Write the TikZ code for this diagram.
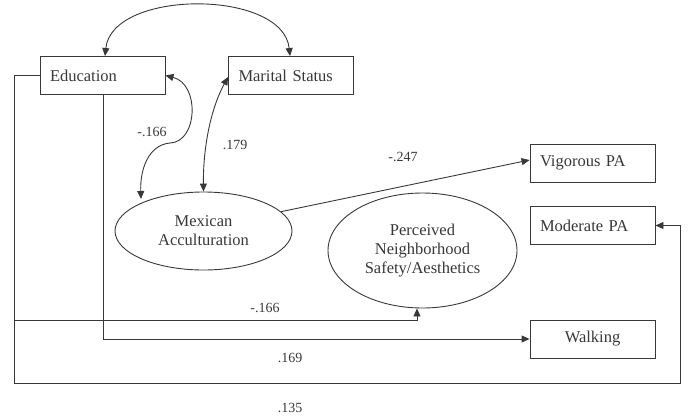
\documentclass[tikz,border=0pt]{standalone}
\usepackage{fontspec}
\setmainfont{Liberation Serif}
\usetikzlibrary{arrows.meta,shapes.geometric,calc}
\definecolor{ink}{HTML}{383838}
\tikzset{
  box/.style={draw=ink, line width=0.9pt, rectangle, minimum height=38pt, text width=105pt, inner xsep=10pt, inner ysep=0pt, align=left, text=ink, font=\fontsize{16.5}{19}\selectfont},
  cbox/.style={box, align=center},
  oval/.style={draw=ink, line width=0.9pt, ellipse, inner sep=0pt, align=center, text=ink, font=\fontsize{16.5}{19}\selectfont},
  conn/.style={draw=ink, line width=0.9pt, -{Triangle[length=8pt,width=7pt]}},
  dconn/.style={draw=ink, line width=0.9pt, {Triangle[length=8pt,width=7pt]}-{Triangle[length=8pt,width=7pt]}},
  wire/.style={draw=ink, line width=0.9pt},
  lab/.style={text=ink, font=\fontsize{14}{16}\selectfont, inner sep=0pt}
}
\begin{document}
\begin{tikzpicture}[x=1pt,y=-1pt]
\useasboundingbox (0,0) rectangle (689,416);
\node[box] (edu) at (102.5,75.5) {Education};
\node[box] (mar) at (291,75.5) {Marital Status};
\node[box] (vig) at (592.5,163) {Vigorous PA};
\node[box] (mod) at (592.5,225.5) {Moderate PA};
\node[cbox] (walk) at (592.5,339) {Walking};
\node[oval, minimum width=177pt, minimum height=78pt] (acc) at (203.5,231) {Mexican\\Acculturation};
\node[oval, minimum width=189pt, minimum height=115pt] (perc) at (422.5,250.5) {Perceived\\Neighborhood\\Safety/Aesthetics};
% top covariance
\draw[dconn] ($(edu.north)+(2.5,0)$) .. controls (112,-11) and (283,-11) .. ($(mar.north)+(-1,0)$);
% education - acculturation
\draw[dconn] (edu.east) .. controls (200,84) and (198,142) .. (170,143) .. controls (148,145) and (140,170) .. (141,199);
% marital - acculturation
\draw[dconn] ($(mar.west)+(0,1.5)$) .. controls (210,110) and (203,150) .. (acc.north);
% acculturation -> vigorous
\draw[conn] (acc.14) -- ($(vig.west)+(0,-3)$);
% education left -> perceived and moderate
\coordinate (l1) at (14,75.5);
\coordinate (l2) at (14,320);
\coordinate (l3) at (417,320);
\coordinate (l4) at (14,383);
\coordinate (l5) at (680,383);
\coordinate (l6) at (680,225.5);
\draw[wire] (edu.west) -- (l1) -- (l4);
\draw[conn] (l2) -- (l3) -- (l3 |- perc.south);
\draw[conn] (l4) -- (l5) -- (l6) -- (mod.east);
% education bottom -> walking
\coordinate (b1) at (103,94);
\coordinate (b2) at (103,339);
\draw[conn] (b1) -- (b2) -- (walk.west);
% labels
\node[lab] (t1) at (152,132) {-.166};
\node[lab] (t2) at (235,145) {.179};
\node[lab] (t3) at (403,157) {-.247};
\node[lab] (t4) at (265,308) {-.166};
\node[lab] (t5) at (290,358) {.169};
\node[lab] (t6) at (290,408) {.135};
\end{tikzpicture}
\end{document}
